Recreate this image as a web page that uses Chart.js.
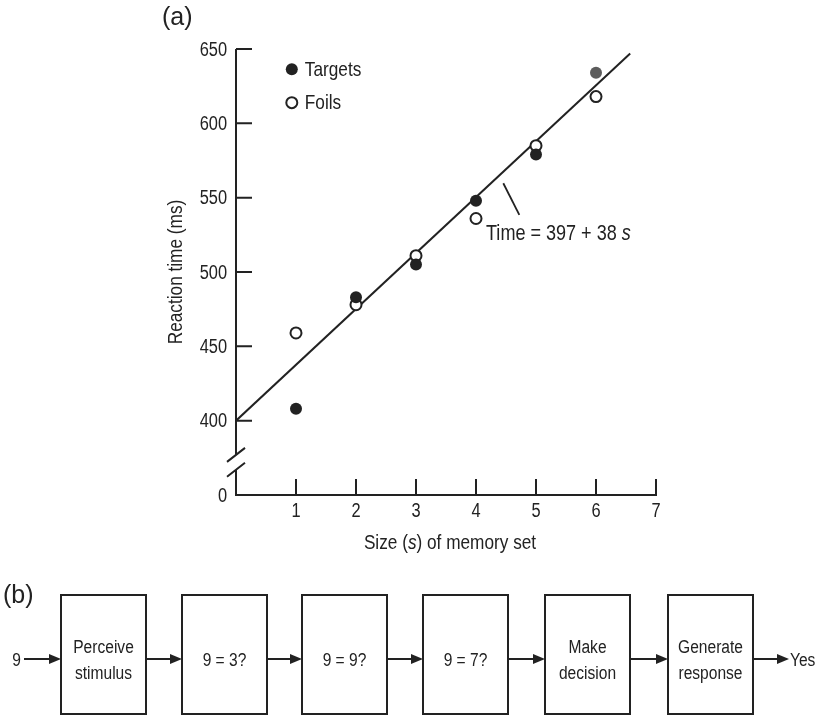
<!DOCTYPE html>
<html>
<head>
<meta charset="utf-8">
<script src="https://cdn.jsdelivr.net/npm/chart.js@4.4.1/dist/chart.umd.min.js"></script>
<style>
  body { margin: 0; background: #fff; }
  #page { position: relative; width: 822px; height: 719px; overflow: hidden; }
  #plot { position: absolute; left: 0; top: 0; }
  #flow { position: absolute; left: 0; top: 0; }
  .panel { font-family: 'Liberation Sans', Arial, sans-serif; font-size: 25px; fill: #222; }
  .box { font-family: 'Liberation Sans', Arial, sans-serif; font-size: 19px; fill: #222; }
</style>
</head>
<body>
<div id="page">
  <canvas id="plot" width="822" height="580"></canvas>
  <svg id="flow" width="822" height="719"></svg>
</div>
<script>
const ink = '#222';
const sans = "'Liberation Sans', Arial, sans-serif";
const squeeze = 0.82; // no narrow face installed, so regular glyphs are squeezed

// (a) reaction time vs memory set size
const setSizes = [1, 2, 3, 4, 5, 6];
const targetTimes = [408, 483, 505, 548, 579, 634];
const foilTimes = [459, 478, 511, 536, 585, 618];
const fitSizes = [0, 6.57];
const fitTimes = [400, 647];
const yTickValues = [350, 400, 450, 500, 550, 600, 650]; // 350 sits below the break, shown as 0
const yTickLabels = ['0', '400', '450', '500', '550', '600', '650'];
const xTickLabels = ['', '1', '2', '3', '4', '5', '6', '7'];
const legendLabels = ['Targets', 'Foils'];
const fitLabel = 'Time = 397 + 38 ';
const yTitle = 'Reaction time (ms)';

// (b) serial search stages
const stimulus = '9';
const stageLabels = [['Perceive', 'stimulus'], ['9 = 3?'], ['9 = 9?'], ['9 = 7?'], ['Make', 'decision'], ['Generate', 'response']];
const answer = 'Yes';

function setFont(ctx, size, italic) {
  ctx.font = (italic ? 'italic ' : '') + size + 'px ' + sans;
}
// narrow text at (x, y); runs = [[text, italic], ...]
function runsWidth(ctx, runs, size) {
  let w = 0;
  runs.forEach(r => { setFont(ctx, size, r[1]); w += ctx.measureText(r[0]).width; });
  return w * squeeze;
}
function drawRuns(ctx, runs, x, y, size, align, angle) {
  const w = runsWidth(ctx, runs, size);
  ctx.save();
  ctx.translate(x, y);
  if (angle) ctx.rotate(angle);
  ctx.scale(squeeze, 1);
  ctx.textAlign = 'left';
  let cx = align === 'center' ? -w / 2 / squeeze : align === 'right' ? -w / squeeze : 0;
  runs.forEach(r => {
    setFont(ctx, size, r[1]);
    ctx.fillText(r[0], cx, 0);
    cx += ctx.measureText(r[0]).width;
  });
  ctx.restore();
}

const extras = {
  id: 'extras',
  beforeDatasetsDraw(chart) {
    const {ctx, scales: {x, y}} = chart;
    const ax = x.getPixelForValue(0);
    const bottom = y.getPixelForValue(350);
    const breakTop = y.getPixelForValue(377);
    const breakBottom = y.getPixelForValue(367);
    ctx.save();
    ctx.strokeStyle = ink;
    ctx.lineWidth = 2;
    ctx.beginPath();
    // broken y axis
    ctx.moveTo(ax, y.getPixelForValue(650));
    ctx.lineTo(ax, breakTop);
    ctx.moveTo(ax, breakBottom);
    ctx.lineTo(ax, bottom + 1);
    // inward tick marks
    yTickValues.slice(1).forEach(v => {
      const py = y.getPixelForValue(v);
      ctx.moveTo(ax, py);
      ctx.lineTo(ax + 16, py);
    });
    xTickLabels.forEach((t, s) => {
      if (!t) return;
      const px = x.getPixelForValue(s);
      ctx.moveTo(px, bottom);
      ctx.lineTo(px, bottom - 16);
    });
    // break marks
    [breakTop, breakBottom].forEach(py => {
      ctx.moveTo(ax - 9, py + 7);
      ctx.lineTo(ax + 9, py - 7);
    });
    ctx.stroke();

    // tick labels
    ctx.fillStyle = ink;
    ctx.textBaseline = 'middle';
    yTickValues.forEach((v, i) => drawRuns(ctx, [[yTickLabels[i], false]], ax - 9, y.getPixelForValue(v) + 1, 20, 'right'));
    xTickLabels.forEach((t, s) => drawRuns(ctx, [[t, false]], x.getPixelForValue(s), bottom + 16, 20, 'center'));

    // axis titles
    drawRuns(ctx, [[yTitle, false]], 176, (y.top + y.bottom) / 2, 21, 'center', -Math.PI / 2);
    ctx.textBaseline = 'alphabetic';
    drawRuns(ctx, [['Size (', false], ['s', true], [') of memory set', false]], (x.left + x.right) / 2 + 4, bottom + 54, 21, 'center');
    ctx.restore();
  },
  afterDraw(chart) {
    const {ctx, scales: {x, y}} = chart;
    ctx.save();
    ctx.fillStyle = ink;
    ctx.strokeStyle = ink;

    // legend
    const lx = x.getPixelForValue(0.93);
    const ly = [y.getPixelForValue(636.3), y.getPixelForValue(613.9)];
    ctx.beginPath();
    ctx.arc(lx, ly[0], 6, 0, Math.PI * 2);
    ctx.fill();
    ctx.beginPath();
    ctx.lineWidth = 2;
    ctx.arc(lx, ly[1], 5.5, 0, Math.PI * 2);
    ctx.stroke();
    ctx.textBaseline = 'middle';
    drawRuns(ctx, [[legendLabels[0], false]], lx + 13, ly[0] + 1, 21, 'left');
    drawRuns(ctx, [[legendLabels[1], false]], lx + 13, ly[1] + 1, 21, 'left');

    // fit line label with leader
    ctx.lineWidth = 1.8;
    ctx.beginPath();
    ctx.moveTo(x.getPixelForValue(4.455), y.getPixelForValue(559.7));
    ctx.lineTo(x.getPixelForValue(4.722), y.getPixelForValue(538.4));
    ctx.stroke();
    ctx.textBaseline = 'alphabetic';
    drawRuns(ctx, [[fitLabel, false], ['s', true]], x.getPixelForValue(4.167), y.getPixelForValue(521.6), 22, 'left');
    ctx.restore();
  }
};

new Chart(document.getElementById('plot'), {
  type: 'scatter',
  data: {
    datasets: [
      {
        label: legendLabels[0],
        data: setSizes.map((s, i) => ({x: s, y: targetTimes[i]})),
        pointRadius: 6,
        pointBackgroundColor: [ink, ink, ink, ink, ink, '#5c5c5c'],
        pointBorderWidth: 0
      },
      {
        label: legendLabels[1],
        data: setSizes.map((s, i) => ({x: s, y: foilTimes[i]})),
        pointRadius: 5.5,
        pointBackgroundColor: '#fff',
        pointBorderColor: ink,
        pointBorderWidth: 2
      },
      {
        label: 'fit',
        data: fitSizes.map((s, i) => ({x: s, y: fitTimes[i]})),
        showLine: true,
        borderColor: ink,
        borderWidth: 2,
        pointRadius: 0
      }
    ]
  },
  options: {
    responsive: false,
    animation: false,
    layout: {padding: {top: 49, right: 166, left: 0, bottom: 0}},
    plugins: {legend: {display: false}, tooltip: {enabled: false}},
    scales: {
      x: {
        type: 'linear',
        min: 0,
        max: 7,
        afterFit: s => { s.height = 85; },
        grid: {display: false},
        border: {display: true, color: ink, width: 2},
        ticks: {display: false, stepSize: 1}
      },
      y: {
        type: 'linear',
        min: 350,
        max: 650,
        afterFit: s => { s.width = 236; },
        afterBuildTicks: s => { s.ticks = yTickValues.map(v => ({value: v})); },
        grid: {display: false},
        border: {display: false},
        ticks: {display: false}
      }
    }
  },
  plugins: [extras]
});

// (b) flow diagram
const svg = document.getElementById('flow');
const NS = 'http://www.w3.org/2000/svg';
function add(tag, attrs, text) {
  const el = document.createElementNS(NS, tag);
  for (const k in attrs) el.setAttribute(k, attrs[k]);
  if (text !== undefined) el.textContent = text;
  svg.appendChild(el);
  return el;
}
function label(x, y, text, anchor) {
  add('text', {transform: `translate(${x},${y}) scale(${squeeze},1)`, class: 'box', 'text-anchor': anchor, 'dominant-baseline': 'central'}, text);
}
function arrow(x1, x2, ay) {
  add('line', {x1: x1, y1: ay, x2: x2 - 10, y2: ay, stroke: ink, 'stroke-width': 2});
  add('polygon', {points: `${x2},${ay} ${x2 - 12},${ay - 5} ${x2 - 12},${ay + 5}`, fill: ink});
}

add('text', {x: 162, y: 25, class: 'panel'}, '(a)');
add('text', {x: 3, y: 603, class: 'panel'}, '(b)');

const boxLefts = [61, 182, 302, 423, 545, 668];
const boxW = 85, boxTop = 595, boxH = 119, arrowY = 659;
label(21, arrowY, stimulus, 'end');
arrow(24, boxLefts[0], arrowY);
stageLabels.forEach((lines, i) => {
  const bx = boxLefts[i];
  add('rect', {x: bx, y: boxTop, width: boxW, height: boxH, fill: 'none', stroke: ink, 'stroke-width': 2});
  lines.forEach((t, j) => label(bx + boxW / 2, arrowY + (j - (lines.length - 1) / 2) * 26, t, 'middle'));
  const next = i < boxLefts.length - 1 ? boxLefts[i + 1] : 789;
  arrow(bx + boxW, next, arrowY);
});
label(790, arrowY, answer, 'start');
</script>
</body>
</html>
